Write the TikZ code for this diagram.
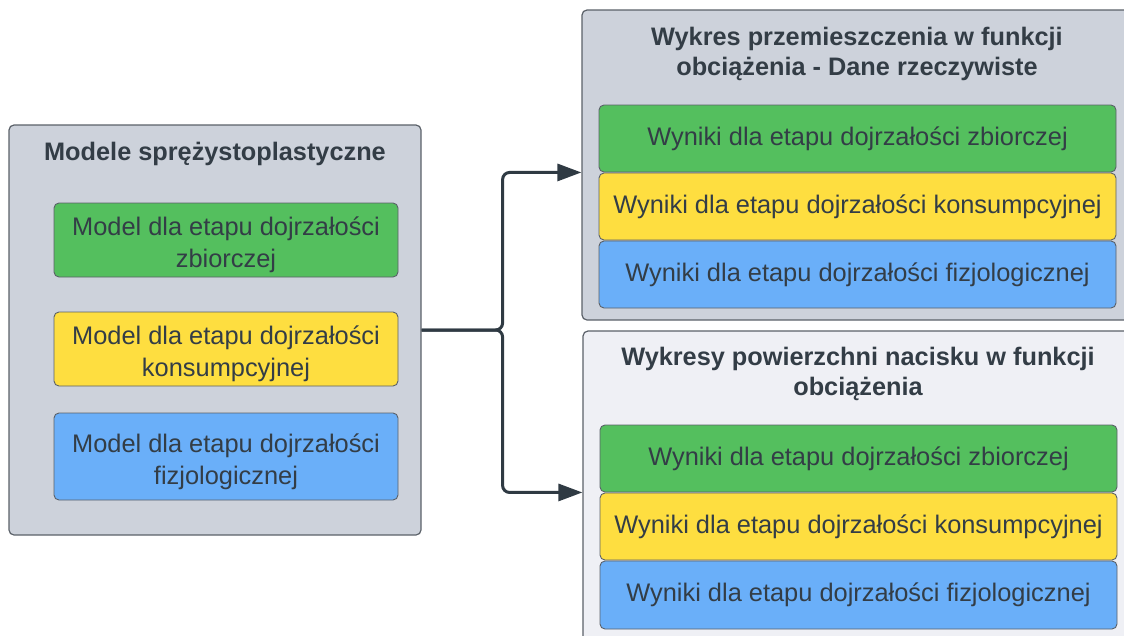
\documentclass[tikz,border=0pt]{standalone}
\usepackage{fontspec}
\setmainfont{Liberation Sans}
\usetikzlibrary{arrows.meta}
\definecolor{cgray}{HTML}{CDD2DB}
\definecolor{clight}{HTML}{EFF0F5}
\definecolor{cgreen}{HTML}{54BF5E}
\definecolor{cyellow}{HTML}{FEDE40}
\definecolor{cblue}{HTML}{6AAFF9}
\definecolor{ctext}{HTML}{333D46}
\definecolor{cborder}{HTML}{5B6169}
\definecolor{cline}{HTML}{2F3A43}
\newcommand{\topstrut}{\rule{0pt}{29pt}}
\begin{document}
\begin{tikzpicture}[x=1pt,y=-1pt,
  container/.style={draw=cborder, line width=1.2pt, rounded corners=5pt, inner sep=0pt},
  item/.style={draw=cborder, line width=0.9pt, rounded corners=5pt, text=ctext, align=center,
    font=\fontsize{25.4}{32}\selectfont, inner sep=0pt},
  titletext/.style={text=ctext, align=center, font=\bfseries\fontsize{25.3}{30}\selectfont},
  conn/.style={draw=cline, line width=3pt, rounded corners=7pt, -{Triangle[length=24pt,width=17pt]}}]
\clip (0,0) rectangle (1124,635);
% left container
\node[container, fill=cgray, minimum width=412pt, minimum height=410pt] (L) at (215,330) {};
\node[titletext] (Lt) at (215,154) {Modele sprężystoplastyczne};
\node[item, fill=cgreen, minimum width=344pt, minimum height=74pt] (Lg) at (226,240) {\topstrut Model dla etapu dojrzałości\\zbiorczej};
\node[item, fill=cyellow, minimum width=344pt, minimum height=74pt] (Ly) at (226,349) {\topstrut Model dla etapu dojrzałości\\konsumpcyjnej};
\node[item, fill=cblue, minimum width=344pt, minimum height=87pt] (Lb) at (226,456.5) {\topstrut Model dla etapu dojrzałości\\fizjologicznej};
% top right container
\node[container, fill=cgray, minimum width=552pt, minimum height=310pt] (TR) at (858,165) {};
\node[titletext] (TRt) at (857,54) {Wykres przemieszczenia w funkcji\\obciążenia - Dane rzeczywiste};
\node[item, fill=cgreen, minimum width=517pt, minimum height=67pt] (TRg) at (857.5,138.5) {Wyniki dla etapu dojrzałości zbiorczej};
\node[item, fill=cyellow, minimum width=517pt, minimum height=67pt] (TRy) at (857.5,206.5) {Wyniki dla etapu dojrzałości konsumpcyjnej};
\node[item, fill=cblue, minimum width=517pt, minimum height=67pt] (TRb) at (857.5,274.5) {Wyniki dla etapu dojrzałości fizjologicznej};
% bottom right container
\node[container, fill=clight, minimum width=552pt, minimum height=319pt] (BR) at (859,490.5) {};
\node[titletext] (BRt) at (858,374) {Wykresy powierzchni nacisku w funkcji\\obciążenia};
\node[item, fill=cgreen, minimum width=517pt, minimum height=67pt] (BRg) at (858.5,458.5) {Wyniki dla etapu dojrzałości zbiorczej};
\node[item, fill=cyellow, minimum width=517pt, minimum height=67pt] (BRy) at (858.5,526.5) {Wyniki dla etapu dojrzałości konsumpcyjnej};
\node[item, fill=cblue, minimum width=517pt, minimum height=68pt] (BRb) at (858.5,595) {Wyniki dla etapu dojrzałości fizjologicznej};
% connectors
\draw[conn] (L.east) -- ++(81,0) |- (TR.west |- TRg.south);
\draw[conn] (L.east) -- ++(81,0) |- (BR.west |- BRg.south);
\end{tikzpicture}
\end{document}
